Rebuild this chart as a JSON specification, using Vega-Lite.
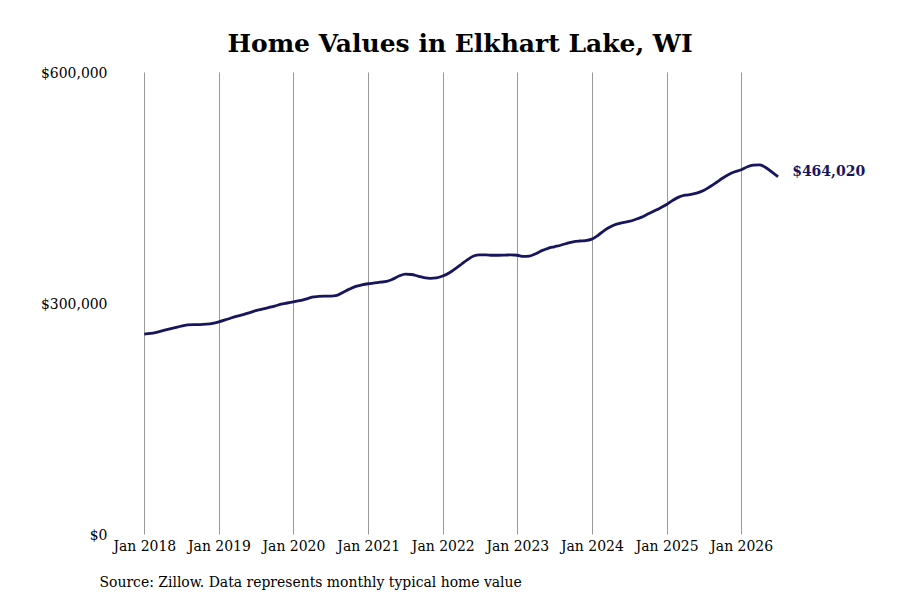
{
  "$schema": "https://vega.github.io/schema/vega-lite/v6.json",
  "width": 700, "height": 462,
  "autosize": "none",
  "padding": {"left": 110, "top": 72, "right": 90, "bottom": 66},
  "background": "white",
  "title": {
    "text": "Home Values in Elkhart Lake, WI",
    "font": "DejaVu Serif", "fontSize": 25, "fontWeight": "bold", "color": "black",
    "anchor": "middle", "offset": 8
  },
  "data": {
    "values": [
      {"date": "2018/01/01", "value": 259500}, {"date": "2018/02/01", "value": 260500}, {"date": "2018/03/01", "value": 262000},
      {"date": "2018/04/01", "value": 264000}, {"date": "2018/05/01", "value": 266000}, {"date": "2018/06/01", "value": 268000},
      {"date": "2018/07/01", "value": 270000}, {"date": "2018/08/01", "value": 271500}, {"date": "2018/09/01", "value": 272000},
      {"date": "2018/10/01", "value": 272000}, {"date": "2018/11/01", "value": 272500}, {"date": "2018/12/01", "value": 273500},
      {"date": "2019/01/01", "value": 275500}, {"date": "2019/02/01", "value": 278000}, {"date": "2019/03/01", "value": 280500},
      {"date": "2019/04/01", "value": 283000}, {"date": "2019/05/01", "value": 285000}, {"date": "2019/06/01", "value": 287500},
      {"date": "2019/07/01", "value": 290000}, {"date": "2019/08/01", "value": 292000}, {"date": "2019/09/01", "value": 294000},
      {"date": "2019/10/01", "value": 296000}, {"date": "2019/11/01", "value": 298500}, {"date": "2019/12/01", "value": 300000},
      {"date": "2020/01/01", "value": 301500}, {"date": "2020/02/01", "value": 303000}, {"date": "2020/03/01", "value": 305000},
      {"date": "2020/04/01", "value": 307500}, {"date": "2020/05/01", "value": 308500}, {"date": "2020/06/01", "value": 309000},
      {"date": "2020/07/01", "value": 309000}, {"date": "2020/08/01", "value": 310000}, {"date": "2020/09/01", "value": 314000},
      {"date": "2020/10/01", "value": 318000}, {"date": "2020/11/01", "value": 321500}, {"date": "2020/12/01", "value": 323500},
      {"date": "2021/01/01", "value": 325000}, {"date": "2021/02/01", "value": 326000}, {"date": "2021/03/01", "value": 327000},
      {"date": "2021/04/01", "value": 328000}, {"date": "2021/05/01", "value": 331000}, {"date": "2021/06/01", "value": 335000},
      {"date": "2021/07/01", "value": 337500}, {"date": "2021/08/01", "value": 337000}, {"date": "2021/09/01", "value": 335000},
      {"date": "2021/10/01", "value": 333000}, {"date": "2021/11/01", "value": 332000}, {"date": "2021/12/01", "value": 332500},
      {"date": "2022/01/01", "value": 335000}, {"date": "2022/02/01", "value": 339000}, {"date": "2022/03/01", "value": 344000},
      {"date": "2022/04/01", "value": 350000}, {"date": "2022/05/01", "value": 356000}, {"date": "2022/06/01", "value": 361000},
      {"date": "2022/07/01", "value": 362500}, {"date": "2022/08/01", "value": 362500}, {"date": "2022/09/01", "value": 362000},
      {"date": "2022/10/01", "value": 362000}, {"date": "2022/11/01", "value": 362200}, {"date": "2022/12/01", "value": 362500},
      {"date": "2023/01/01", "value": 362000}, {"date": "2023/02/01", "value": 360500}, {"date": "2023/03/01", "value": 361000},
      {"date": "2023/04/01", "value": 364000}, {"date": "2023/05/01", "value": 368000}, {"date": "2023/06/01", "value": 371000},
      {"date": "2023/07/01", "value": 373000}, {"date": "2023/08/01", "value": 375000}, {"date": "2023/09/01", "value": 377500},
      {"date": "2023/10/01", "value": 379500}, {"date": "2023/11/01", "value": 380500}, {"date": "2023/12/01", "value": 381000},
      {"date": "2024/01/01", "value": 383000}, {"date": "2024/02/01", "value": 388000}, {"date": "2024/03/01", "value": 394000},
      {"date": "2024/04/01", "value": 399000}, {"date": "2024/05/01", "value": 402500}, {"date": "2024/06/01", "value": 404500},
      {"date": "2024/07/01", "value": 406000}, {"date": "2024/08/01", "value": 408500}, {"date": "2024/09/01", "value": 411500},
      {"date": "2024/10/01", "value": 415500}, {"date": "2024/11/01", "value": 419500}, {"date": "2024/12/01", "value": 423500},
      {"date": "2025/01/01", "value": 428000}, {"date": "2025/02/01", "value": 433500}, {"date": "2025/03/01", "value": 437500},
      {"date": "2025/04/01", "value": 440000}, {"date": "2025/05/01", "value": 441000}, {"date": "2025/06/01", "value": 443000},
      {"date": "2025/07/01", "value": 446000}, {"date": "2025/08/01", "value": 451000}, {"date": "2025/09/01", "value": 456500},
      {"date": "2025/10/01", "value": 462000}, {"date": "2025/11/01", "value": 467000}, {"date": "2025/12/01", "value": 470500},
      {"date": "2026/01/01", "value": 473000}, {"date": "2026/02/01", "value": 477000}, {"date": "2026/03/01", "value": 479000},
      {"date": "2026/04/01", "value": 479500}, {"date": "2026/05/01", "value": 476000}, {"date": "2026/06/01", "value": 470000},
      {"date": "2026/07/01", "value": 464020}
    ]
  },
  "encoding": {
    "x": {
      "field": "date", "type": "temporal",
      "scale": {"domain": [{"year": 2017, "month": 7, "date": 17}, {"year": 2026, "month": 12, "date": 4}]},
      "title": "Source: Zillow. Data represents monthly typical home value",
      "axis": {
        "format": "%b %Y", "tickCount": {"interval": "year", "step": 1},
        "grid": true, "gridColor": "#999999", "gridWidth": 1,
        "domain": false, "ticks": false, "labelPadding": 4,
        "labelFont": "DejaVu Serif Condensed", "labelFontSize": 15.5, "labelColor": "black",
        "titleFont": "DejaVu Serif Condensed", "titleFontSize": 15.5, "titleFontWeight": "normal", "titleColor": "black",
        "titleAnchor": "start", "titleAlign": "left", "titleX": -11, "titleY": 40
      }
    },
    "y": {
      "field": "value", "type": "quantitative",
      "scale": {"domain": [0, 600000]},
      "title": null,
      "axis": {
        "values": [0, 300000, 600000], "format": "$,.0f",
        "grid": false, "domain": false, "ticks": false, "labelPadding": 3,
        "labelFont": "DejaVu Serif Condensed", "labelFontSize": 15.5, "labelColor": "black"
      }
    }
  },
  "layer": [
    {"mark": {"type": "line", "color": "#17155e", "strokeWidth": 2.8, "interpolate": "monotone"}},
    {
      "transform": [{"filter": "datum.value == 464020"}],
      "mark": {"type": "text", "align": "left", "baseline": "middle", "dx": 14, "dy": -5, "font": "DejaVu Serif", "fontSize": 14, "fontWeight": "bold", "color": "#17155e"},
      "encoding": {"text": {"field": "value", "type": "quantitative", "format": "$,.0f"}}
    }
  ],
  "config": {"view": {"stroke": null}}
}
